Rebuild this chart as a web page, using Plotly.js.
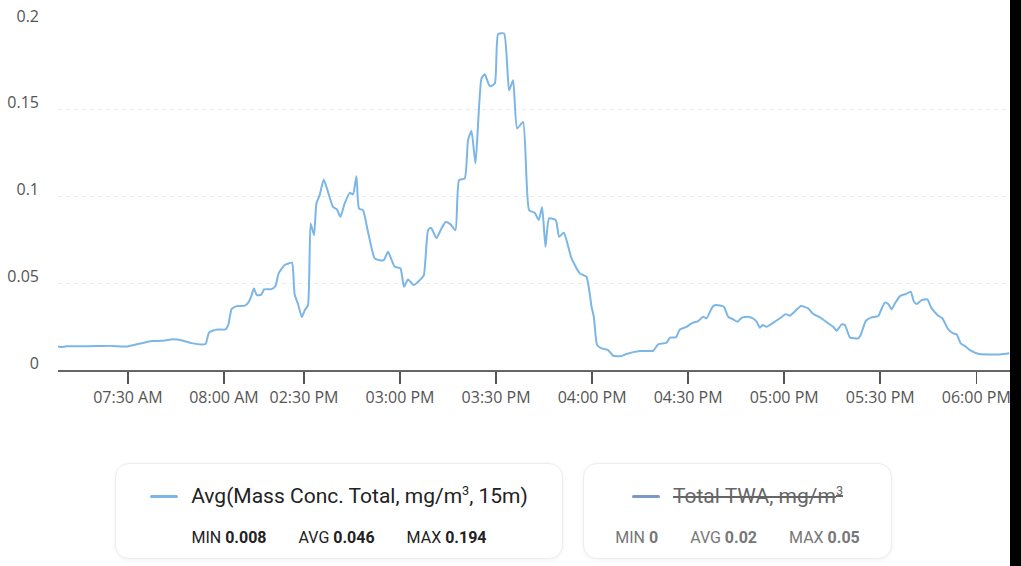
<!DOCTYPE html>
<html>
<head>
<meta charset="utf-8">
<script src="https://cdn.plot.ly/plotly-3.0.1.min.js"></script>
<style>
  html, body { margin: 0; padding: 0; background: #fff; }
  #page { position: relative; width: 1021px; height: 566px; overflow: hidden; background: #fff; }
  #chart { position: absolute; left: 0; top: 0; width: 1021px; height: 440px; }
  #strip { position: absolute; left: 1010px; top: 0; width: 11px; height: 566px; background: #000; }
  .box { position: absolute; top: 463px; height: 94px; border: 1px solid #ededed; border-radius: 14px;
         box-shadow: 0 1px 4px rgba(0,0,0,0.05); background: #fff; font-family: Roboto, "Liberation Sans", sans-serif; }
  .row1 { position: absolute; left: 0; right: 0; top: 18px; height: 28px; display: flex; justify-content: center; align-items: center; }
  .row2 { position: absolute; left: 0; right: 0; top: 63px; height: 20px; display: flex; justify-content: center; align-items: center; font-size: 16px; color: #222; }
  .sw { width: 28px; height: 3px; border-radius: 2px; margin-right: 13px; }
  .name { font-size: 21px; color: #222; }
  .name sup { font-size: 0.6em; vertical-align: 0.6em; line-height: 0; }
  .stat { margin: 0 16px; }
  .stat b { font-weight: 700; }
  .off .name { color: #666; text-decoration: line-through; }
  .off .row2 { color: #777; }
</style>
</head>
<body>
<div id="page">
  <div id="chart"></div>
  <div id="strip"></div>
  <div class="box" id="box1" style="left:115px;width:446px;"></div>
  <div class="box off" id="box2" style="left:583px;width:307px;"></div>
</div>
<script>
// ---- data ----
const DAY = '2024-05-14';
const times = [
  '07:08:10','07:09:20','07:10:50','07:17:35','07:24:55','07:29:35','07:32:10','07:34:45','07:37:25','07:40:30',
  '07:44:10','07:46:45','07:49:55','07:53:00','07:54:15','07:55:20','07:56:40','07:58:15','08:00:30','08:01:20',
  '08:02:25','08:04:00','08:06:35','08:07:35','08:08:40','08:09:20','08:10:15','08:11:35','08:12:35',
  '14:19:50','14:21:05','14:22:05','14:23:58','14:26:15','14:26:40','14:27:05','14:28:05','14:29:20','14:30:15',
  '14:31:15','14:32:05','14:33:08','14:33:53','14:34:55','14:36:10','14:37:30','14:39:04','14:40:19','14:41:23',
  '14:42:43','14:44:17','14:45:19','14:46:23','14:47:11','14:48:26','14:50:00','14:52:05','14:53:40','14:54:55',
  '14:56:15','14:58:20','15:00:08','15:01:15','15:02:30','15:04:17','15:06:10','15:07:25','15:08:45','15:09:41',
  '15:11:23','15:12:56','15:14:17','15:15:41','15:17:19','15:18:26','15:20:13','15:21:15','15:22:19','15:23:34',
  '15:25:26','15:26:28','15:28:02','15:29:36','15:30:38','15:32:30','15:34:04','15:35:19','15:36:34','15:38:26',
  '15:40:19','15:42:05','15:43:20','15:44:23','15:45:26','15:46:34','15:48:39','15:49:41','15:51:10','15:53:34',
  '15:56:10','15:58:15','15:59:49','16:00:32','16:01:34','16:02:56','16:05:00','16:06:34','16:09:11','16:10:45',
  '16:14:55','16:19:04','16:20:38','16:23:15','16:24:17','16:26:10','16:27:25','16:29:30','16:31:04','16:33:08',
  '16:34:41','16:35:45','16:37:38','16:38:40','16:41:10','16:42:30','16:44:04','16:45:26','16:46:41','16:48:45',
  '16:50:32','16:51:23','16:52:25','16:53:15','16:54:30','16:56:34','16:58:40','17:00:32','17:01:47','17:03:02',
  '17:05:13','17:07:30','17:08:53','17:11:10','17:13:45','17:15:19','17:16:23','17:17:56','17:18:58','17:20:32',
  '17:23:08','17:23:53','17:25:32','17:27:19','17:29:23','17:30:08','17:31:28','17:32:30','17:33:34','17:34:35',
  '17:36:10','17:38:02','17:39:30','17:40:32','17:41:23','17:42:56','17:44:41','17:46:04','17:48:08','17:49:23',
  '17:51:15','17:52:49','17:53:53','17:55:08','17:56:28','17:58:02','18:00:56','18:04:17','18:07:25','18:10:19'
];
const values = [
  0.0135,0.0132,0.0137,0.0137,0.0139,0.0135,0.0146,0.0156,0.0167,0.0168,
  0.0177,0.0172,0.0155,0.0147,0.0150,0.0215,0.0228,0.0233,0.0234,0.0258,
  0.0352,0.0368,0.0371,0.0388,0.0432,0.0470,0.0432,0.0433,0.0465,
  0.0466,0.0484,0.0557,0.0605,0.0618,0.0557,0.0435,0.0384,0.0305,0.0345,
  0.0374,0.0845,0.0777,0.0960,0.1008,0.1098,0.1027,0.0940,0.0925,0.0883,
  0.0960,0.1021,0.1012,0.1117,0.0931,0.0921,0.0796,0.0643,0.0633,0.0633,
  0.0681,0.0595,0.0585,0.0480,0.0522,0.0490,0.0518,0.0545,0.0806,0.0820,
  0.0760,0.0816,0.0853,0.0841,0.0806,0.1094,0.1104,0.1325,0.1378,0.1190,
  0.1680,0.1705,0.1636,0.1651,0.1935,0.1940,0.1612,0.1670,0.1392,0.1430,
  0.0921,0.0906,0.0864,0.0940,0.0710,0.0874,0.0864,0.0768,0.0791,0.0643,
  0.0557,0.0537,0.0365,0.0307,0.0144,0.0125,0.0115,0.0082,0.0080,0.0092,
  0.0109,0.0111,0.0148,0.0157,0.0186,0.0188,0.0234,0.0249,0.0269,0.0282,
  0.0307,0.0298,0.0365,0.0374,0.0365,0.0307,0.0292,0.0278,0.0301,0.0307,
  0.0294,0.0278,0.0244,0.0259,0.0249,0.0272,0.0298,0.0322,0.0313,0.0332,
  0.0369,0.0355,0.0326,0.0303,0.0269,0.0249,0.0226,0.0263,0.0259,0.0188,
  0.0182,0.0202,0.0284,0.0303,0.0311,0.0341,0.0388,0.0380,0.0350,0.0384,
  0.0426,0.0438,0.0451,0.0393,0.0380,0.0403,0.0407,0.0355,0.0313,0.0298,
  0.0234,0.0211,0.0205,0.0154,0.0138,0.0115,0.0092,0.0090,0.0090,0.0096
];
const tickTimes  = ['07:30','08:00','14:30','15:00','15:30','16:00','16:30','17:00','17:30','18:00'];
const tickLabels = ['07:30 AM','08:00 AM','02:30 PM','03:00 PM','03:30 PM','04:00 PM','04:30 PM','05:00 PM','05:30 PM','06:00 PM'];
const yTicks = [0, 0.05, 0.1, 0.15, 0.2];
const yTickLabels = ['0', '0.05', '0.1', '0.15', '0.2'];
const gapStart = '08:13', gapEnd = '14:18';
const rangeStart = '07:08:10', rangeEnd = '18:13:58';

const seriesName = 'Avg(Mass Conc. Total, mg/m<sup>3</sup>, 15m)';
const seriesStats = { MIN: '0.008', AVG: '0.046', MAX: '0.194' };
const hiddenName = 'Total TWA, mg/m<sup>3</sup>';
const hiddenStats = { MIN: '0', AVG: '0.02', MAX: '0.05' };
const lineColor = '#7cb6e6';
const hiddenColor = '#7c98c8';

const d = t => DAY + ' ' + t;

const trace = {
  x: times.map(d), y: values, type: 'scatter', mode: 'lines',
  line: { color: lineColor, width: 2, shape: 'spline', smoothing: 0.5 },
  hoverinfo: 'skip', showlegend: false
};

const layout = {
  width: 1021, height: 440,
  margin: { l: 58, r: 0, t: 23, b: 70 },
  paper_bgcolor: '#fff', plot_bgcolor: '#fff',
  showlegend: false,
  font: { family: '"Open Sans", "Noto Sans", sans-serif', size: 16, color: '#555' },
  xaxis: {
    type: 'date',
    range: [d(rangeStart), d(rangeEnd)],
    rangebreaks: [{ bounds: [d(gapStart), d(gapEnd)] }],
    tickmode: 'array', tickvals: tickTimes.map(d), ticktext: tickLabels,
    ticks: 'outside', ticklen: 12, tickwidth: 1.5, tickcolor: '#555',
    ticklabeloverflow: 'allow',
    showline: true, linecolor: '#666', linewidth: 2,
    showgrid: false, zeroline: false,
    tickfont: { size: 16, color: '#555' }
  },
  yaxis: {
    range: [0, 0.2],
    tickmode: 'array', tickvals: yTicks, ticktext: yTickLabels,
    showgrid: true, gridcolor: '#ececec', griddash: '4px,4px', gridwidth: 1,
    zeroline: false, showline: false, ticks: '',
    ticklabelshift: -7, ticklabelstandoff: 18,
    tickfont: { size: 16, color: '#555' }
  }
};

Plotly.newPlot('chart', [trace], layout, { staticPlot: true, displayModeBar: false });

function fillBox(id, color, name, stats) {
  const box = document.getElementById(id);
  const r1 = document.createElement('div'); r1.className = 'row1';
  r1.innerHTML = '<div class="sw" style="background:' + color + '"></div><span class="name">' + name + '</span>';
  const r2 = document.createElement('div'); r2.className = 'row2';
  r2.innerHTML = Object.keys(stats).map(k => '<span class="stat">' + k + ' <b>' + stats[k] + '</b></span>').join('');
  box.appendChild(r1); box.appendChild(r2);
}
fillBox('box1', lineColor, seriesName, seriesStats);
fillBox('box2', hiddenColor, hiddenName, hiddenStats);
</script>
</body>
</html>
